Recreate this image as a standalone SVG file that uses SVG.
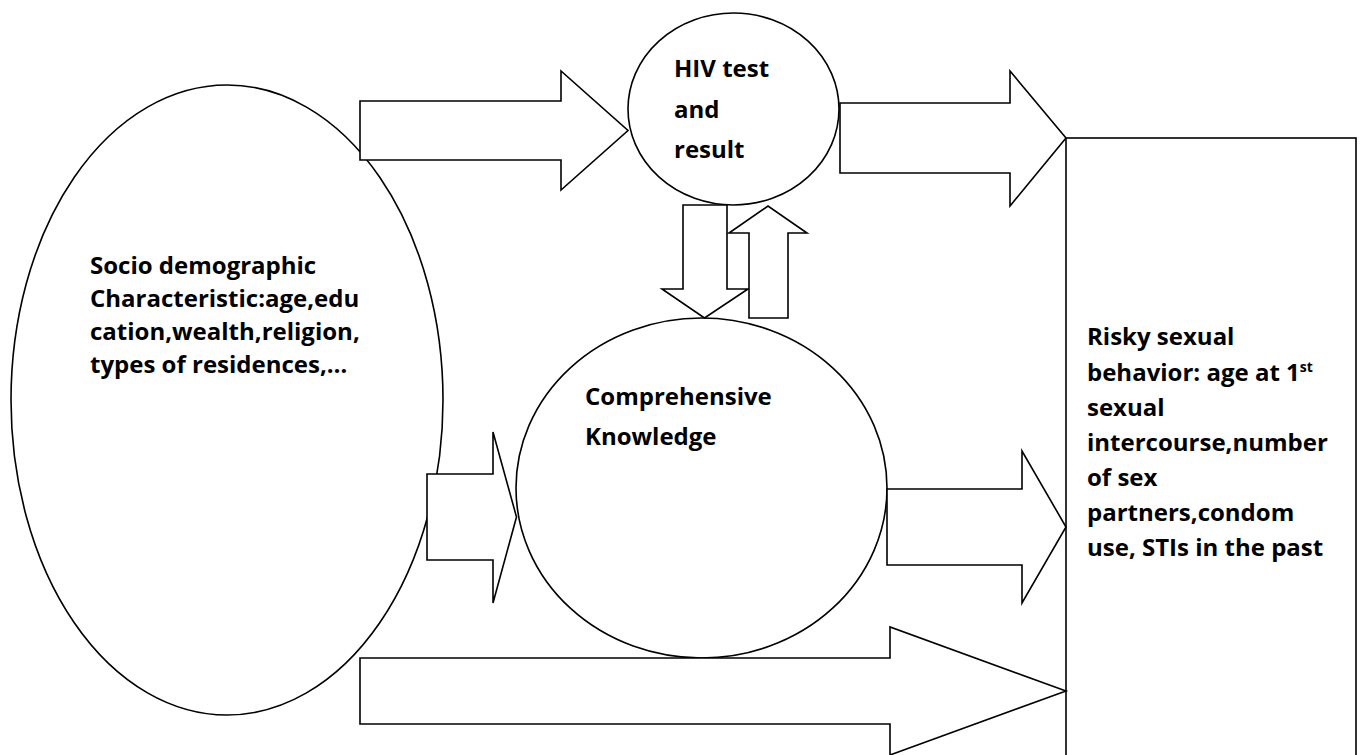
<svg xmlns="http://www.w3.org/2000/svg" width="1362" height="755" viewBox="0 0 1362 755">
  <style>
    .shape { fill: #ffffff; stroke: #000000; stroke-width: 1.6; stroke-linejoin: miter; }
    .label { font-family: "Open Sans", "Liberation Sans", sans-serif; font-weight: 700; font-size: 24px; fill: #000000; }
    .sup { font-size: 14px; }
  </style>
  <rect x="0" y="0" width="1362" height="755" fill="#ffffff"/>

  <g id="node-socio">
    <ellipse class="shape" cx="227" cy="400" rx="216" ry="315"/>
    <text class="label">
      <tspan x="90" y="274">Socio demographic</tspan>
      <tspan x="90" y="307">Characteristic:age,edu</tspan>
      <tspan x="90" y="340">cation,wealth,religion,</tspan>
      <tspan x="90" y="373">types of residences,…</tspan>
    </text>
  </g>

  <g id="node-hiv">
    <ellipse class="shape" cx="733.5" cy="109" rx="105.5" ry="96"/>
    <text class="label">
      <tspan x="674" y="77">HIV test</tspan>
      <tspan x="674" y="118">and</tspan>
      <tspan x="674" y="158">result</tspan>
    </text>
  </g>

  <g id="node-knowledge">
    <ellipse class="shape" cx="701.5" cy="488" rx="185.5" ry="170"/>
    <text class="label">
      <tspan x="585" y="405">Comprehensive</tspan>
      <tspan x="585" y="445">Knowledge</tspan>
    </text>
  </g>

  <g id="node-risky">
    <rect class="shape" x="1066" y="138" width="290" height="640"/>
    <text class="label">
      <tspan x="1087" y="345">Risky sexual</tspan>
      <tspan x="1087" y="381">behavior: age at 1<tspan class="sup" dy="-9">st</tspan></tspan>
      <tspan x="1087" y="416">sexual</tspan>
      <tspan x="1087" y="451">intercourse,number</tspan>
      <tspan x="1087" y="486">of sex</tspan>
      <tspan x="1087" y="521">partners,condom</tspan>
      <tspan x="1087" y="556">use, STIs in the past</tspan>
    </text>
  </g>

  <g id="connectors">
    <!-- socio -> HIV -->
    <polygon class="shape" points="360,101 561,101 561,71 628,130.5 561,190 561,160 360,160"/>
    <!-- HIV -> risky -->
    <polygon class="shape" points="840,103 1010,103 1010,71 1066,138 1010,206 1010,173 840,173"/>
    <!-- HIV -> knowledge (down) -->
    <polygon class="shape" points="683,205 727,205 727,289 748,289 704.5,318 662,289 683,289"/>
    <!-- knowledge -> HIV (up) -->
    <polygon class="shape" points="749,318 749,233 729,233 768,206 807,233 788,233 788,318"/>
    <!-- socio -> knowledge -->
    <polygon class="shape" points="427,474 493,474 493,432 516.5,517 493,603 493,560 427,560"/>
    <!-- knowledge -> risky -->
    <polygon class="shape" points="887,489 1022,489 1022,451 1066,527 1022,603 1022,565 887,565"/>
    <!-- socio -> risky -->
    <polygon class="shape" points="360,658 890,658 890,627 1066,691 890,755 890,724 360,724"/>
  </g>
</svg>
